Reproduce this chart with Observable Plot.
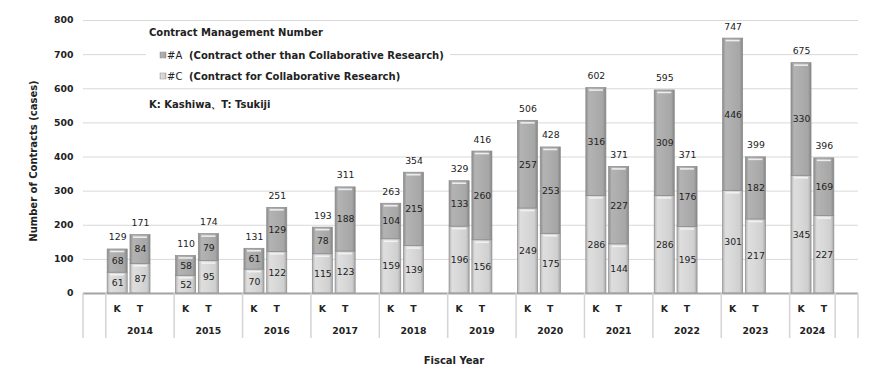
<!DOCTYPE html>
<html><head><meta charset="utf-8">
<script src="https://cdn.jsdelivr.net/npm/d3@7"></script>
<script src="https://cdn.jsdelivr.net/npm/@observablehq/plot@0.6"></script>
<style>body{margin:0;background:#fff;} svg{display:block;}</style>
</head><body><div id="chart"></div>
<script>
const years = ["2014","2015","2016","2017","2018","2019","2020","2021","2022","2023","2024"];
const kC = [61,52,70,115,159,196,249,286,286,301,345];
const kA = [68,58,61,78,104,133,257,316,309,446,330];
const tC = [87,95,122,123,139,156,175,144,195,217,227];
const tA = [84,79,129,188,215,260,253,227,176,182,169];
const kTotal = [129,110,131,193,263,329,506,602,595,747,675];
const tTotal = [171,174,251,311,354,416,428,371,371,399,396];
const yTicks = [0,100,200,300,400,500,600,700,800];
const campusLabels = {K:"K", T:"T"};

const cats = ["_0"];
years.forEach(y => cats.push(y+"K", y+"T", "_"+y));
const rows = [];
years.forEach((y,i) => {
  rows.push({cat:y+"K", series:"C", value:kC[i]});
  rows.push({cat:y+"T", series:"C", value:tC[i]});
});
years.forEach((y,i) => {
  rows.push({cat:y+"K", series:"A", value:kA[i]});
  rows.push({cat:y+"T", series:"A", value:tA[i]});
});
const totals = [];
years.forEach((y,i) => {
  totals.push({cat:y+"K", total:kTotal[i]});
  totals.push({cat:y+"T", total:tTotal[i]});
});

const chart = Plot.plot({
  width: 887, height: 379,
  marginTop: 20, marginBottom: 86, marginLeft: 83, marginRight: 29,
  x: {domain: cats, paddingInner: 0.12, paddingOuter: 0.06, round: false, axis: null},
  y: {domain: [0, 800], axis: null},
  color: {domain: ["C","A"], range: ["url(#gC)","url(#gA)"]},
  style: {fontFamily: "DejaVu Sans", background: "white", color: "#222"},
  marks: [
    Plot.gridY(yTicks, {stroke: "#d9d9d9", strokeOpacity: 1}),
    Plot.axisY(yTicks, {tickSize: 0, tickPadding: 10, fontWeight: "bold", fontSize: 9.3, label: null}),
    Plot.barY(rows, {x: "cat", y: "value", fill: "series", stroke: "#8a8a8a", strokeWidth: 0.7}),
    Plot.tickY(rows, Plot.stackY2({x: "cat", y: "value", stroke: "#f4f4f4", strokeWidth: 1.6, strokeOpacity: 0.9, dy: 2, inset: 3})),
    Plot.ruleY([0], {stroke: "#a3a3a3", strokeWidth: 2}),
    Plot.text(rows, Plot.stackY({x: "cat", y: "value", text: "value", fontSize: 9.3, fill: "#222"})),
    Plot.text(totals, {x: "cat", y: "total", text: "total", dy: -12, fontSize: 9.3, fill: "#222"})
  ]
});
document.getElementById("chart").appendChild(chart);

const svg = d3.select(chart);
const defs = svg.insert("defs", ":first-child");
function grad(id, stops) {
  const g = defs.append("linearGradient").attr("id", id).attr("x1", 0).attr("x2", 1).attr("y1", 0).attr("y2", 0);
  stops.forEach(([o, c]) => g.append("stop").attr("offset", o).attr("stop-color", c));
}
grad("gA", [[0,"#8c8c8c"],[0.15,"#b3b3b3"],[0.5,"#adadad"],[0.85,"#a6a6a6"],[1,"#858585"]]);
grad("gC", [[0,"#b3b3b3"],[0.15,"#dedede"],[0.5,"#d8d8d8"],[0.85,"#cfcfcf"],[1,"#a6a6a6"]]);

const xs = chart.scale("x"), ys = chart.scale("y");
const step = xs.step, bw = xs.bandwidth;
const left = c => xs.apply(c) - (step - bw) / 2;
const base = ys.apply(0);
const t = svg.append("g").attr("font-family", "DejaVu Sans").attr("fill", "#222");
const bounds = ["_0", ...years.map(y => y+"K"), "_2024"].map(left);
bounds.push(left("_2024") + step);
bounds.forEach(x => t.append("line").attr("x1", x).attr("x2", x).attr("y1", base).attr("y2", base + 45)
  .attr("stroke", "#d4d4d4").attr("stroke-width", 1.5));
years.forEach((y, i) => {
  ["K","T"].forEach(s => t.append("text").attr("x", xs.apply(y+s) + bw/2).attr("y", base + 15)
    .attr("text-anchor", "middle").attr("dominant-baseline", "central").attr("font-weight", "bold")
    .attr("font-size", 9.3).text(campusLabels[s]));
  const x0 = left(y+"K");
  const x1 = i < years.length - 1 ? left(years[i+1]+"K") : left("_2024");
  t.append("text").attr("x", (x0 + x1) / 2).attr("y", base + 37).attr("text-anchor", "middle")
    .attr("dominant-baseline", "central").attr("font-weight", "bold").attr("font-size", 9.3).text(y);
});
t.append("text").attr("x", 454).attr("y", 360).attr("text-anchor", "middle").attr("dominant-baseline", "central")
  .attr("font-weight", "bold").attr("font-size", 10).text("Fiscal Year");
t.append("text").attr("transform", "translate(33,161) rotate(-90)").attr("text-anchor", "middle")
  .attr("dominant-baseline", "central").attr("font-weight", "bold").attr("font-size", 10).text("Number of Contracts (cases)");

const lg = svg.append("g").attr("font-family", "DejaVu Sans").attr("fill", "#222").attr("text-anchor", "start");
lg.append("rect").attr("x", 146).attr("y", 43).attr("width", 304).attr("height", 40).attr("fill", "white");
lg.append("text").attr("x", 149).attr("y", 32).attr("dominant-baseline", "central").attr("font-weight", "bold")
  .attr("font-size", 10).text("Contract Management Number");
[["gA","#A","(Contract other than Collaborative Research)",55],["gC","#C","(Contract for Collaborative Research)",76]]
.forEach(([g, k, label, y]) => {
  lg.append("rect").attr("x", 160).attr("y", y - 3).attr("width", 6).attr("height", 6).attr("fill", `url(#${g})`).attr("stroke", "#999").attr("stroke-width", 0.5);
  lg.append("text").attr("x", 167).attr("y", y).attr("dominant-baseline", "central").attr("font-size", 10).text(k);
  lg.append("text").attr("x", 189).attr("y", y).attr("dominant-baseline", "central").attr("font-weight", "bold").attr("font-size", 10).text(label);
});
lg.append("text").attr("x", 149).attr("y", 104).attr("dominant-baseline", "central").attr("font-weight", "bold")
  .attr("font-size", 10).text("K: Kashiwa、T: Tsukiji");
</script></body></html>
